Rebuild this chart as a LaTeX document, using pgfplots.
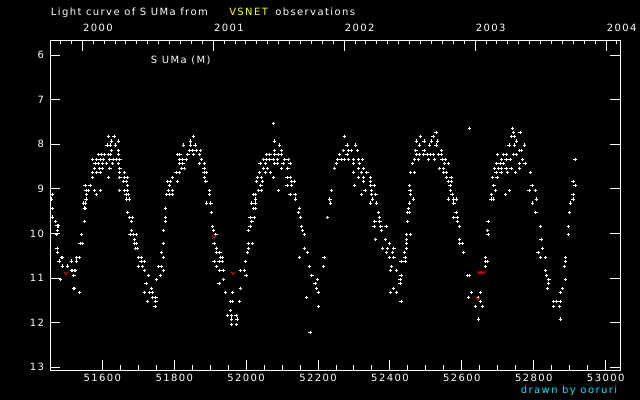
\documentclass[border=0pt]{standalone}
\usepackage{fontspec}
\usepackage{pgfplots}
\usepackage{pgfplotstable}
\pgfplotsset{compat=1.18}
\newfontfamily\pix[LetterSpace=14]{DejaVu Sans}
\newcommand\pixfont{\pix\fontsize{7.5pt}{9pt}\selectfont}
\definecolor{vsyellow}{RGB}{255,255,0}
\definecolor{drawncyan}{RGB}{0,230,255}
\definecolor{limred}{RGB}{230,0,0}
\pgfdeclareplotmark{vlim}{%
  \pgfpathmoveto{\pgfqpoint{-1.6pt}{1.0pt}}%
  \pgfpathlineto{\pgfqpoint{0pt}{-0.9pt}}%
  \pgfpathlineto{\pgfqpoint{1.6pt}{1.0pt}}%
  \pgfusepathqstroke}

\pgfplotstableread{
jd mag
51459 9.23
51461 9.12
51461 9.44
51461 9.63
51469 9.73
51474 9.83
51478 9.83
51476 9.93
51472 10.02
51474 10.33
51476 10.42
51486 10.54
51489 10.54
51480 10.62
51489 10.73
51504 10.73
51514 10.62
51514 10.83
51518 10.83
51522 10.83
51526 10.83
51529 10.54
51536 10.54
51529 10.62
51521 10.94
51483 11.03
51519 11.23
51522 11.23
51536 11.32
51550 9.73
51543 10.02
51538 10.22
51545 10.22
51550 9.43
51547 9.32
51554 9.32
51555 9.23
51553 9.44
51557 9.12
51555 9.03
51562 9.03
51552 8.92
51566 8.92
51579 9.03
51584 9.12
51617 7.82
51633 7.82
51626 7.93
51645 7.93
51613 8.02
51622 8.02
51636 8.02
51589 8.23
51598 8.23
51607 8.23
51617 8.23
51623 8.23
51645 8.23
51626 8.14
51645 8.14
51572 8.34
51584 8.34
51594 8.34
51603 8.34
51621 8.34
51631 8.34
51640 8.34
51649 8.34
51580 8.43
51589 8.43
51601 8.43
51611 8.43
51629 8.43
51645 8.43
51578 8.54
51592 8.54
51601 8.54
51621 8.54
51649 8.54
51572 8.63
51584 8.63
51594 8.63
51647 8.63
51661 8.63
51572 8.74
51617 8.74
51649 8.74
51663 8.74
51670 8.74
51659 8.83
51668 8.83
51670 8.92
51595 9.03
51647 9.03
51663 9.03
51670 9.03
51666 9.12
51672 9.12
51668 9.23
51675 9.23
51671 9.53
51675 9.64
51683 9.64
51682 9.73
51682 9.93
51677 10.02
51686 10.02
51694 10.02
51689 10.13
51689 10.22
51696 10.22
51693 10.33
51698 10.33
51701 10.54
51708 10.54
51708 10.63
51717 10.63
51700 10.74
51711 10.74
51717 10.83
51728 10.94
51722 11.12
51717 11.32
51731 11.32
51739 11.32
51736 11.23
51739 11.43
51749 11.43
51725 11.52
51749 11.52
51747 11.63
51750 11.03
51761 10.94
51770 10.83
51756 10.74
51765 10.74
51764 10.42
51770 10.54
51770 10.22
51770 9.93
51775 9.64
51775 9.73
51775 9.44
51779 9.12
51788 9.12
51796 9.12
51784 9.03
51796 9.03
51786 8.92
51782 8.83
51790 8.83
51809 8.83
51796 8.74
51805 8.63
51814 8.63
51821 8.54
51828 8.54
51814 8.43
51824 8.43
51814 8.34
51824 8.34
51835 8.34
51809 8.23
51816 8.23
51838 8.23
51853 8.23
51870 8.23
51842 8.14
51851 8.14
51861 8.14
51874 8.14
51846 8.02
51858 8.02
51825 8.02
51846 7.93
51853 7.82
51876 8.34
51870 8.43
51884 8.43
51883 8.54
51883 8.63
51890 8.63
51884 8.74
51888 8.83
51898 9.03
51898 9.12
51890 9.32
51902 9.32
51904 9.53
51906 9.84
51909 9.93
51916 10.02
51911 10.22
51918 10.33
51927 10.42
51918 10.42
51929 10.54
51934 10.54
51911 10.63
51925 10.63
51933 10.63
51918 10.74
51927 10.83
51938 10.83
51938 11.03
51925 11.12
51943 11.32
51962 11.32
51957 11.52
51962 11.52
51981 11.52
51957 11.72
51949 11.84
51960 11.84
51972 11.84
51960 11.92
51975 11.92
51960 12.04
51974 12.04
51984 11.23
51985 10.83
51995 10.83
52000 10.94
51998 10.63
52004 10.42
52006 10.33
52006 10.22
52017 10.22
52006 9.93
52011 9.84
52016 9.73
52011 9.64
52022 9.64
52020 9.44
52025 9.44
52016 9.32
52026 9.32
52026 9.23
52020 9.12
52025 9.12
52034 9.03
52043 9.03
52041 8.92
52029 8.83
52045 8.83
52032 8.74
52043 8.74
52037 8.63
52053 8.63
52067 8.63
52039 8.43
52053 8.43
52048 8.54
52060 8.54
52048 8.34
52057 8.34
52066 8.34
52076 8.34
52087 8.34
52108 8.34
52117 8.34
52057 8.23
52066 8.23
52078 8.23
52089 8.23
52099 8.23
52078 8.14
52099 8.14
52078 7.93
52092 8.02
52076 7.53
52078 8.43
52087 8.43
52103 8.43
52122 8.43
52099 8.54
52116 8.54
52076 8.74
52114 8.74
52124 8.74
52090 9.03
52127 8.83
52134 8.83
52114 8.92
52127 8.92
52122 9.12
52136 9.12
52138 9.23
52148 9.44
52145 9.53
52151 9.64
52154 9.84
52156 9.93
52162 10.02
52162 10.33
52170 10.42
52148 10.54
52176 10.74
52183 10.94
52198 11.03
52192 11.12
52195 11.23
52201 11.32
52167 11.43
52201 11.63
52178 12.22
52217 10.54
52215 10.74
52226 9.64
52233 9.23
52234 9.32
52237 9.03
52245 8.54
52251 8.43
52259 8.23
52281 8.23
52270 8.14
52284 8.14
52293 8.14
52309 8.14
52281 8.02
52304 8.02
52273 7.82
52255 8.34
52264 8.34
52273 8.34
52284 8.34
52298 8.34
52312 8.34
52323 8.34
52298 8.43
52315 8.43
52312 8.54
52326 8.54
52298 8.63
52320 8.63
52336 8.63
52312 8.74
52326 8.74
52345 8.74
52326 8.83
52345 8.83
52301 8.92
52346 8.92
52356 8.92
52331 9.03
52349 9.03
52320 9.12
52349 9.12
52361 9.12
52351 9.23
52346 9.32
52363 9.32
52368 9.53
52370 9.64
52358 9.73
52372 9.73
52356 9.84
52375 9.84
52389 9.84
52377 9.93
52360 10.13
52388 10.13
52399 10.22
52380 10.33
52394 10.33
52411 10.33
52391 10.42
52407 10.42
52398 10.54
52411 10.54
52405 10.74
52402 10.83
52419 10.83
52409 11.23
52402 11.32
52419 11.32
52431 10.94
52428 11.03
52428 11.12
52431 11.52
52431 10.63
52442 10.63
52442 10.54
52440 10.42
52446 10.33
52446 10.22
52446 10.13
52457 10.02
52446 10.02
52449 9.73
52449 9.53
52453 9.53
52451 9.44
52454 9.32
52465 9.23
52457 9.12
52456 9.03
52454 8.92
52458 8.63
52468 8.63
52463 8.43
52468 8.34
52479 8.34
52473 8.23
52482 8.23
52493 8.23
52503 8.23
52512 8.23
52521 8.23
52535 8.23
52544 8.23
52472 8.14
52495 8.14
52544 8.14
52482 8.02
52510 8.02
52528 8.02
52474 7.93
52495 7.93
52516 7.93
52532 7.93
52485 7.82
52520 7.82
52528 7.73
52507 8.34
52523 8.34
52545 8.34
52555 8.34
52537 8.54
52548 8.54
52551 8.43
52562 8.43
52548 8.63
52558 8.63
52558 8.74
52570 8.74
52562 8.83
52570 8.83
52567 8.92
52569 9.03
52573 9.12
52562 9.23
52576 9.23
52584 9.23
52578 9.32
52584 9.53
52578 9.64
52587 9.64
52587 9.73
52594 9.84
52594 10.13
52594 10.22
52601 10.22
52604 10.42
52615 10.94
52621 10.94
52627 11.32
52618 11.43
52637 11.63
52646 11.92
52646 11.43
52651 11.52
52651 11.32
52657 11.63
52665 10.54
52665 10.63
52670 10.63
52665 10.74
52673 9.73
52672 9.93
52673 10.02
52621 7.64
52681 9.23
52687 9.23
52683 9.12
52693 9.03
52689 8.92
52686 8.74
52698 8.74
52695 8.63
52709 8.63
52726 8.63
52690 8.54
52701 8.54
52711 8.54
52723 8.54
52737 8.54
52697 8.43
52706 8.43
52715 8.43
52711 8.34
52723 8.34
52734 8.34
52700 8.23
52715 8.23
52725 8.23
52743 8.23
52752 8.23
52731 8.02
52746 8.02
52774 8.02
52752 7.93
52738 7.82
52746 7.82
52743 7.73
52762 7.73
52740 7.64
52760 8.14
52766 8.14
52768 8.34
52760 8.43
52776 8.43
52760 8.54
52749 8.63
52790 8.63
52733 9.03
52722 9.12
52787 9.03
52804 9.03
52795 8.92
52807 9.23
52797 9.32
52806 9.53
52819 9.84
52820 10.13
52825 10.33
52812 10.42
52818 10.54
52833 10.54
52832 10.83
52836 10.94
52842 11.03
52840 11.12
52838 11.23
52855 11.52
52862 11.52
52873 11.52
52855 11.63
52871 11.63
52874 11.92
52875 11.32
52879 11.23
52888 11.03
52885 10.74
52888 10.63
52889 10.54
52896 10.02
52896 9.84
52899 9.53
52903 9.32
52909 9.12
52909 9.23
52909 8.83
52915 8.92
52915 8.34
}\obsdata

\pgfplotstableread{
jd mag
51499 10.89
51911 10.07
51964 10.89
52644 11.46
52648 10.88
52654 10.88
52660 10.88
}\limdata

\begin{document}
\begin{tikzpicture}[x=0.75pt,y=0.75pt]
\fill[black] (0,0) rectangle (640,400);
\useasboundingbox (0,0) rectangle (640,400);

% top (year) axis
\begin{axis}[
  at={(37.725pt,22.275pt)}, anchor=south west,
  scale only axis, width=427.5pt, height=247.5pt,
  xmin=1999.7555, xmax=2004.109, ymin=0, ymax=1,
  scaled x ticks=false,
  axis line style={white, line width=0.75pt},
  xtick={2000,2001,2002,2003,2004},
  minor xtick={1999.8333,1999.9167,2000.0833,2000.1667,2000.25,2000.3333,2000.4167,2000.5,2000.5833,2000.6667,2000.75,2000.8333,2000.9167,
    2001.0833,2001.1667,2001.25,2001.3333,2001.4167,2001.5,2001.5833,2001.6667,2001.75,2001.8333,2001.9167,
    2002.0833,2002.1667,2002.25,2002.3333,2002.4167,2002.5,2002.5833,2002.6667,2002.75,2002.8333,2002.9167,
    2003.0833,2003.1667,2003.25,2003.3333,2003.4167,2003.5,2003.5833,2003.6667,2003.75,2003.8333,2003.9167,2004.0833},
  ytick=\empty,
  xtick pos=right, xticklabel pos=right,
  tick align=inside,
  major tick length=7.8pt, minor tick length=2.8pt,
  minor tick style={white, line width=0.75pt},
  major tick style={white, line width=0.75pt},
  /pgf/number format/1000 sep={},
  /pgf/number format/assume math mode=true,
  xticklabel style={white, font=\pixfont, anchor=base west, inner sep=0pt, yshift=6.4pt, xshift=0.4pt},
]
\end{axis}

% main axis
\begin{axis}[
  at={(37.725pt,22.275pt)}, anchor=south west,
  scale only axis, width=427.5pt, height=247.5pt,
  xmin=51455.4, xmax=53040.6, ymin=5.67, ymax=13.067, y dir=reverse,
  scaled x ticks=false, scaled y ticks=false,
  axis line style={white, line width=0.75pt},
  xtick={51600,51800,52000,52200,52400,52600,52800,53000},
  minor x tick num=3,
  ytick={6,7,8,9,10,11,12,13},
  xtick pos=left, ytick pos=both, yticklabel pos=left,
  tick align=inside,
  major tick length=7.5pt, minor tick length=4.2pt,
  major tick style={white, line width=0.75pt},
  minor tick style={white, line width=0.75pt},
  /pgf/number format/1000 sep={},
  /pgf/number format/assume math mode=true,
  xticklabel style={white, font=\pixfont, anchor=north, inner sep=0pt, yshift=-3pt, /pgf/number format/fixed, /pgf/number format/precision=0},
  yticklabel style={white, font=\pixfont, anchor=east, inner sep=0pt, xshift=-4.5pt},
  clip=true,
]
\addplot[only marks, white, mark=+, mark size=1.25pt, mark options={line width=0.7pt}] table[x=jd, y=mag] {\obsdata};
\addplot[only marks, limred, mark=vlim, mark options={line width=0.7pt}] table[x=jd, y=mag] {\limdata};
\end{axis}

\begin{scope}[every node/.style={inner sep=0pt, anchor=base west, font=\pixfont}]
\node[white] at (50.7,384) {Light curve of S UMa from};
\node[vsyellow] at (229,384) {VSNET};
\node[white] at (275,384) {observations};
\node[white] at (150.7,336) {S UMa (M)};
\node[drawncyan] at (520.7,6.7) {drawn by ooruri};
\end{scope}
\end{tikzpicture}
\end{document}
